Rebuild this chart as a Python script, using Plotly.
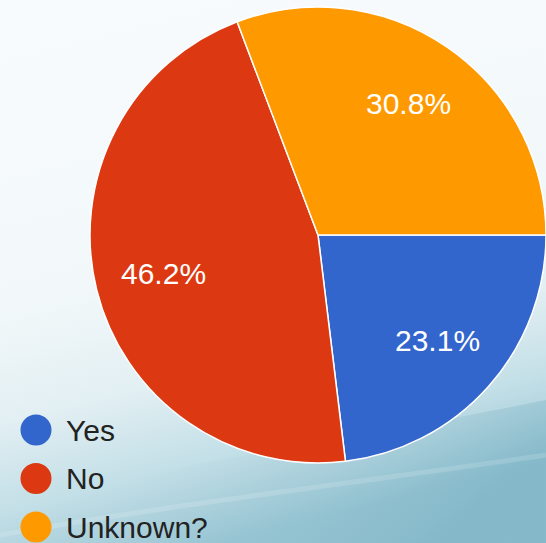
import base64
import math
import plotly.graph_objects as go

labels = ["Yes", "No", "Unknown?"]
values = [3, 6, 4]
colors = ["#3366cc", "#dc3912", "#ff9900"]

W, H = 546, 543
cx, cy, r = 318, 235, 228
start_deg = 90  # first slice starts at 3 o'clock, clockwise
label_r = 0.7

svg = f'''<svg xmlns="http://www.w3.org/2000/svg" width="{W}" height="{H}" viewBox="0 0 {W} {H}">
<defs>
<linearGradient id="g" x1="0.15" y1="0" x2="0.4" y2="1">
<stop offset="0" stop-color="#f8fbfd"/>
<stop offset="0.5" stop-color="#f2f8fa"/>
<stop offset="0.7" stop-color="#e2eff3"/>
<stop offset="0.85" stop-color="#c3dfe7"/>
<stop offset="1" stop-color="#98c6d4"/>
</linearGradient>
<linearGradient id="g2" x1="0" y1="0" x2="1" y2="0.3">
<stop offset="0" stop-color="#ffffff" stop-opacity="0"/>
<stop offset="1" stop-color="#5a9cb2" stop-opacity="0.3"/>
</linearGradient>
</defs>
<rect width="{W}" height="{H}" fill="url(#g)"/>
<path d="M0 500 C 150 470, 350 440, {W} 400 L {W} {H} L 0 {H} Z" fill="url(#g2)"/>
<path d="M0 535 C 200 500, 380 480, {W} 455" stroke="#ffffff" stroke-opacity="0.15" stroke-width="5" fill="none"/>
</svg>'''
bg = "data:image/svg+xml;base64," + base64.b64encode(svg.encode()).decode()

fig = go.Figure()
fig.add_trace(go.Pie(
    labels=labels, values=values, sort=False, direction="clockwise", rotation=start_deg,
    marker=dict(colors=colors, line=dict(color="white", width=1.5)),
    textinfo="none",
    domain=dict(x=[(cx - r) / W, min(1, (cx + r) / W)], y=[1 - (cy + r) / H, 1 - (cy - r) / H]),
    showlegend=False, hoverinfo="label+percent",
))

shapes = []
annotations = []
total = sum(values)
cum = 0
for lab, v in zip(labels, values):
    mid = start_deg + (cum + v / 2) / total * 360
    cum += v
    th = math.radians(mid)
    px = cx + label_r * r * math.sin(th)
    py = cy - label_r * r * math.cos(th)
    annotations.append(dict(text=f"{100 * v / total:.1f}%", xref="paper", yref="paper",
                            x=px / W, y=1 - py / H, xanchor="center", yanchor="middle",
                            showarrow=False,
                            font=dict(family="Liberation Sans, Arial", size=30, color="white")))

for i, (lab, col) in enumerate(zip(labels, colors)):
    yc = 430 + i * 48.5
    shapes.append(dict(type="circle", xref="paper", yref="paper",
                       x0=(36 - 15.5) / W, x1=(36 + 15.5) / W,
                       y0=1 - (yc + 15.5) / H, y1=1 - (yc - 15.5) / H,
                       fillcolor=col, line=dict(width=0), layer="above"))
    annotations.append(dict(text=lab, xref="paper", yref="paper", x=64 / W, y=1 - yc / H,
                            xanchor="left", yanchor="middle", showarrow=False,
                            font=dict(family="Liberation Sans, Arial", size=30, color="#222222")))

fig.update_layout(
    width=W, height=H, margin=dict(l=0, r=0, t=0, b=0),
    paper_bgcolor="#f8fbfd",
    images=[dict(source=bg, xref="paper", yref="paper", x=0, y=1, sizex=1, sizey=1,
                 xanchor="left", yanchor="top", sizing="stretch", layer="below")],
    shapes=shapes, annotations=annotations,
)
fig.write_html("out.html")
